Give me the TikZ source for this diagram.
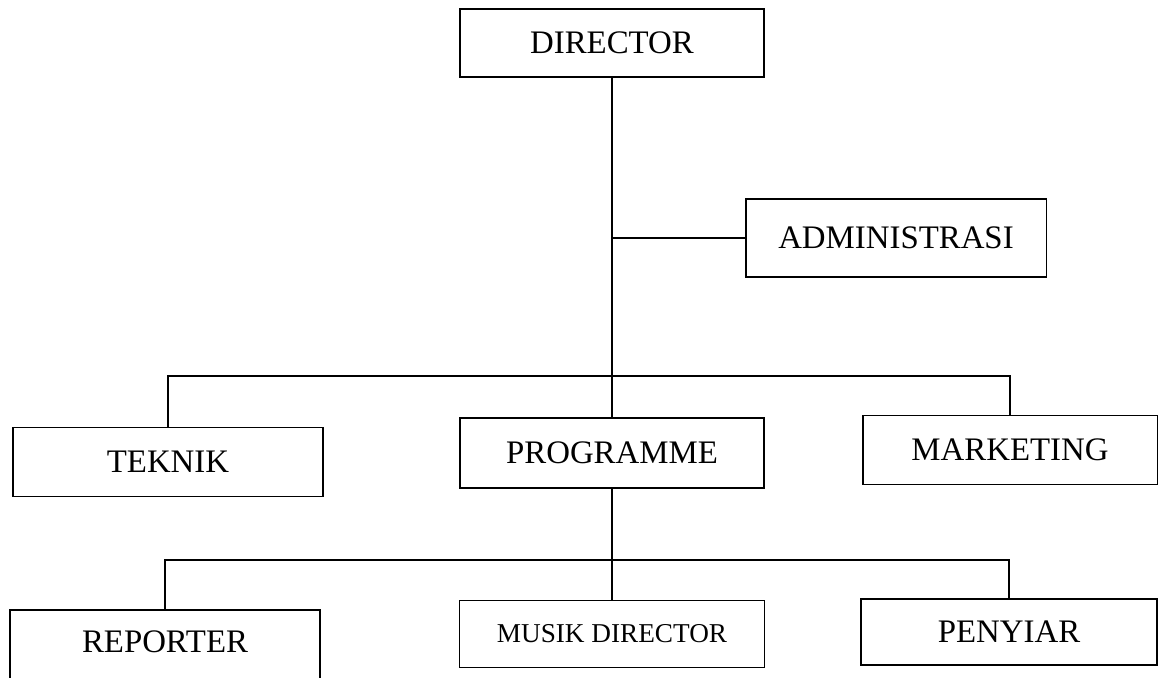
\documentclass[tikz,border=0pt]{standalone}
\usepackage{fontspec}
\setmainfont{Liberation Serif}
\begin{document}
\begin{tikzpicture}
  [x=0.02cm,y=-0.02cm,line width=1.1pt,every node/.style={draw,rectangle,inner sep=0pt,font=\fontsize{18.7}{20}\selectfont}]
  \tikzstyle{small} = [font=\fontsize{15.5}{17}\selectfont]
  \useasboundingbox (0,0) rectangle (1161,677);
  \node[minimum width=6.08cm,minimum height=1.36cm] (director) at (612,43) {DIRECTOR};
  \node[minimum width=6.02cm,minimum height=1.56cm] (admin) at (896,238) {ADMINISTRASI};
  \node[minimum width=6.2cm,minimum height=1.38cm] (teknik) at (168,462) {TEKNIK};
  \node[minimum width=6.08cm,minimum height=1.4cm] (programme) at (612,453) {PROGRAMME};
  \node[minimum width=5.9cm,minimum height=1.38cm] (marketing) at (1010,450) {MARKETING};
  \node[minimum width=6.2cm,minimum height=1.84cm,text height=12.5pt,text depth=16pt] (reporter) at (165,656) {REPORTER};
  \node[small,minimum width=6.1cm,minimum height=1.34cm] (musik) at (612,634) {MUSIK DIRECTOR};
  \node[minimum width=5.92cm,minimum height=1.32cm] (penyiar) at (1009,632) {PENYIAR};
  \coordinate (bus1) at (612,376);
  \coordinate (bus2) at (612,560);
  \draw (director) -- (programme);
  \draw (admin) -- (admin -| director);
  \draw (programme) -- (musik);
\foreach \child in {teknik,marketing}
   \draw (\child) |- (bus1);
\foreach \child in {reporter,penyiar}
   \draw (\child) |- (bus2);
\end{tikzpicture}
\end{document}
